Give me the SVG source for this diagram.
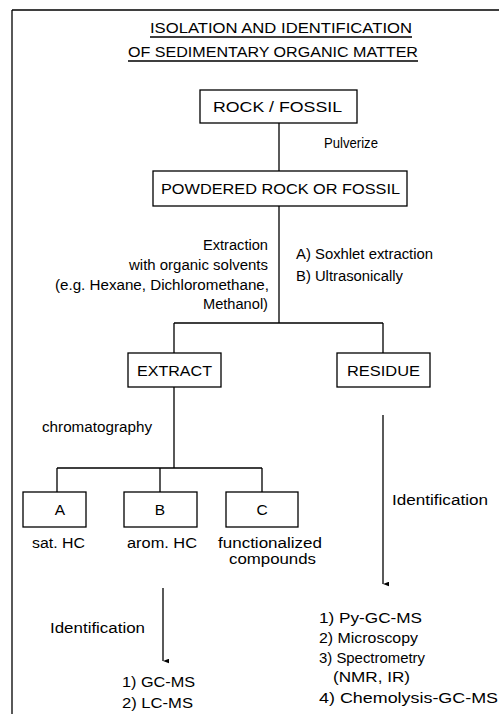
<svg xmlns="http://www.w3.org/2000/svg" width="499" height="714" viewBox="0 0 499 714">
<defs>
<style>
text{font-family:"Liberation Sans",Arial,sans-serif;fill:#000}
.t{font-size:15px}
.b{font-size:15.5px}
.l{font-size:14px}
.box{fill:#fff;stroke:#000;stroke-width:1.3}
.ln{fill:none;stroke:#000;stroke-width:1.3}
</style>
<marker id="ah" viewBox="0 0 6 8" refX="3" refY="8" markerWidth="5" markerHeight="6" orient="auto-start-reverse" markerUnits="userSpaceOnUse">
<path d="M0,0 L6,0 L3,8 Z" fill="#000"/>
</marker>
</defs>
<rect width="499" height="714" fill="#fff"/>
<g id="frame" class="ln">
<path d="M12,10 H499 M12,10 V714"/>
</g>
<g id="title">
<text class="t" x="150" y="33" textLength="262" lengthAdjust="spacingAndGlyphs">ISOLATION AND IDENTIFICATION</text>
<text class="t" x="128" y="57" textLength="290" lengthAdjust="spacingAndGlyphs">OF SEDIMENTARY ORGANIC MATTER</text>
<path class="ln" d="M150,37 H412 M128,61 H418" stroke-width="1"/>
</g>
<g id="connectors" class="ln">
<path d="M279,123 V171"/>
<path d="M279,206 V323 M174,323 H383 M174,323 V353 M383,323 V353"/>
<path d="M174,387 V468 M57,468 H262 M57,468 V492 M160,468 V492 M262,468 V492"/>
<path d="M383,415 V584" marker-end="url(#ah)"/>
<path d="M163,588 V661" marker-end="url(#ah)"/>
</g>
<g id="rock">
<rect class="box" x="200" y="90" width="157" height="33"/>
<text class="b" x="213" y="112" textLength="129" lengthAdjust="spacingAndGlyphs">ROCK / FOSSIL</text>
</g>
<text class="l" x="324" y="148" textLength="54" lengthAdjust="spacingAndGlyphs">Pulverize</text>
<g id="powdered">
<rect class="box" x="153" y="171" width="254" height="35"/>
<text class="b" x="161" y="194" textLength="239" lengthAdjust="spacingAndGlyphs">POWDERED ROCK OR FOSSIL</text>
</g>
<g id="extraction-labels">
<text class="l" x="203" y="250" textLength="65" lengthAdjust="spacingAndGlyphs">Extraction</text>
<text class="l" x="129" y="270" textLength="139" lengthAdjust="spacingAndGlyphs">with organic solvents</text>
<text class="l" x="55" y="290" textLength="214" lengthAdjust="spacingAndGlyphs">(e.g. Hexane, Dichloromethane,</text>
<text class="l" x="203" y="309" textLength="65" lengthAdjust="spacingAndGlyphs">Methanol)</text>
<text class="l" x="296" y="259" textLength="137" lengthAdjust="spacingAndGlyphs">A) Soxhlet extraction</text>
<text class="l" x="296" y="281" textLength="107" lengthAdjust="spacingAndGlyphs">B) Ultrasonically</text>
</g>
<g id="extract">
<rect class="box" x="128" y="353" width="93" height="34"/>
<text class="b" x="137" y="376" textLength="75" lengthAdjust="spacingAndGlyphs">EXTRACT</text>
</g>
<g id="residue">
<rect class="box" x="337" y="353" width="93" height="34"/>
<text class="b" x="347" y="376" textLength="73" lengthAdjust="spacingAndGlyphs">RESIDUE</text>
</g>
<text class="l" x="42" y="432" textLength="110" lengthAdjust="spacingAndGlyphs">chromatography</text>
<g id="fracA">
<rect class="box" x="23" y="492" width="63" height="35"/>
<text class="b" x="60" y="515" text-anchor="middle">A</text>
<text class="l" x="32" y="548" textLength="53" lengthAdjust="spacingAndGlyphs">sat. HC</text>
</g>
<g id="fracB">
<rect class="box" x="124" y="492" width="73" height="35"/>
<text class="b" x="160" y="515" text-anchor="middle">B</text>
<text class="l" x="127" y="548" textLength="70" lengthAdjust="spacingAndGlyphs">arom. HC</text>
</g>
<g id="fracC">
<rect class="box" x="226" y="492" width="72" height="35"/>
<text class="b" x="262" y="515" text-anchor="middle">C</text>
<text class="l" x="218" y="548" textLength="104" lengthAdjust="spacingAndGlyphs">functionalized</text>
<text class="l" x="229" y="564" textLength="87" lengthAdjust="spacingAndGlyphs">compounds</text>
</g>
<text class="l" x="392" y="505" textLength="96" lengthAdjust="spacingAndGlyphs">Identification</text>
<text class="l" x="50" y="633" textLength="95" lengthAdjust="spacingAndGlyphs">Identification</text>
<g id="extract-methods">
<text class="l" x="122" y="687" textLength="73" lengthAdjust="spacingAndGlyphs">1) GC-MS</text>
<text class="l" x="122" y="708" textLength="71" lengthAdjust="spacingAndGlyphs">2) LC-MS</text>
</g>
<g id="residue-methods">
<text class="l" x="319" y="623" textLength="103" lengthAdjust="spacingAndGlyphs">1) Py-GC-MS</text>
<text class="l" x="319" y="643" textLength="99" lengthAdjust="spacingAndGlyphs">2) Microscopy</text>
<text class="l" x="319" y="663" textLength="106" lengthAdjust="spacingAndGlyphs">3) Spectrometry</text>
<text class="l" x="333" y="682" textLength="77" lengthAdjust="spacingAndGlyphs">(NMR, IR)</text>
<text class="l" x="319" y="703" textLength="179" lengthAdjust="spacingAndGlyphs">4) Chemolysis-GC-MS</text>
</g>
</svg>
